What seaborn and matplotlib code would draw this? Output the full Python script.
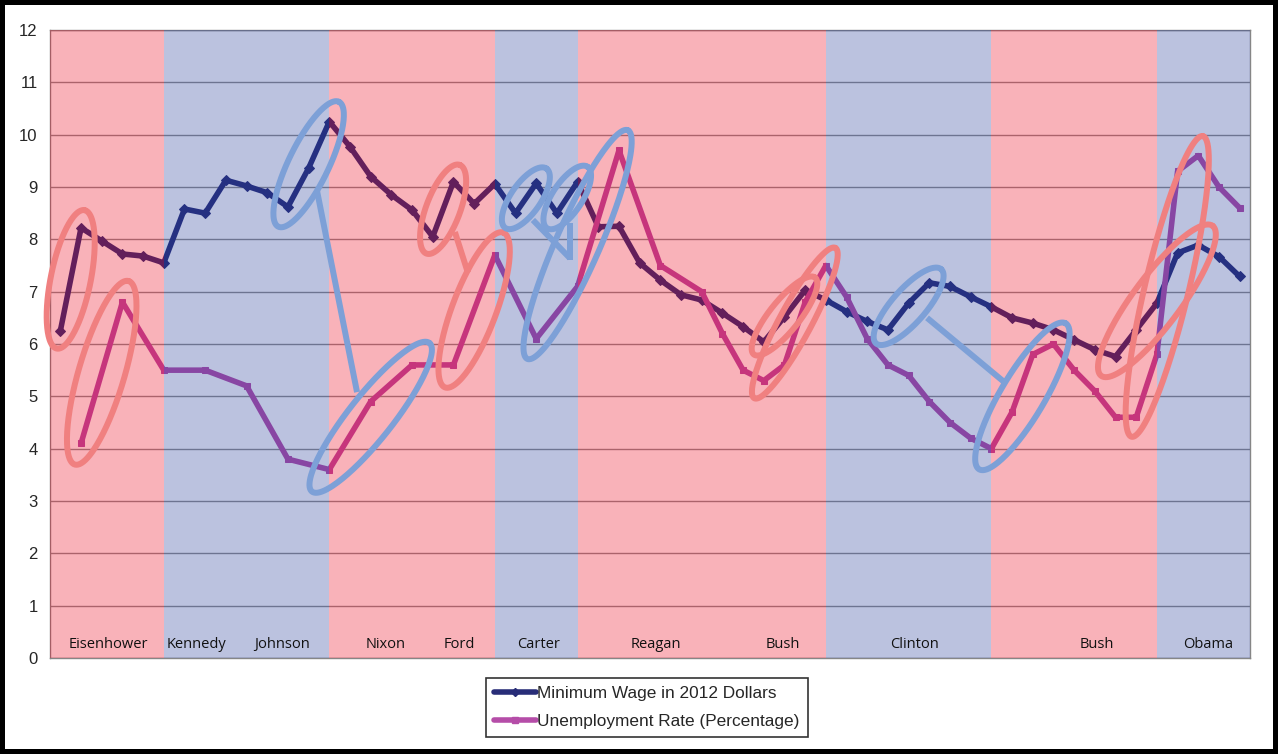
import numpy as np
import pandas as pd
import matplotlib
matplotlib.use("Agg")
import matplotlib.pyplot as plt
import seaborn as sns
from matplotlib.lines import Line2D

# data
years = list(range(1956, 2014))
min_wage = [6.25, 8.22, 7.97, 7.72, 7.68, 7.55, 8.58, 8.50, 9.13, 9.02,
            8.89, 8.62, 9.36, 10.25, 9.77, 9.20, 8.85, 8.56, 8.05, 9.10,
            8.68, 9.06, 8.50, 9.07, 8.50, 9.10, 8.24, 8.25, 7.55, 7.22,
            6.94, 6.84, 6.59, 6.33, 6.04, 6.52, 7.03, 6.84, 6.62, 6.43,
            6.27, 6.78, 7.17, 7.10, 6.90, 6.71, 6.50, 6.40, 6.27, 6.08,
            5.89, 5.76, 6.27, 6.78, 7.74, 7.89, 7.67, 7.29]

ue_years = [1957, 1959, 1961, 1963, 1965, 1967, 1969, 1971, 1973, 1975,
            1977, 1979, 1981, 1983, 1985, 1987, 1988, 1989, 1990, 1991,
            1992, 1993, 1994, 1995, 1996, 1997, 1998, 1999, 2000, 2001,
            2002, 2003, 2004, 2005, 2006, 2007, 2008, 2009, 2010, 2011,
            2012, 2013]
unemployment = [4.1, 6.8, 5.5, 5.5, 5.2, 3.8, 3.6, 4.9, 5.6, 5.6,
                7.7, 6.1, 7.1, 9.7, 7.5, 7.0, 6.2, 5.5, 5.3, 5.6,
                6.8, 7.5, 6.9, 6.1, 5.6, 5.4, 4.9, 4.5, 4.2, 4.0,
                4.7, 5.8, 6.0, 5.5, 5.1, 4.6, 4.6, 5.8, 9.3, 9.6,
                9.0, 8.6]

# presidential terms (band edges) and party
band_edges = [1955.5, 1961, 1969, 1977, 1981, 1993, 2001, 2009, 2013.5]
band_party = ["R", "D", "R", "D", "R", "D", "R", "D"]
presidents = ["Eisenhower", "Kennedy", "Johnson", "Nixon", "Ford", "Carter",
              "Reagan", "Bush", "Clinton", "Bush", "Obama"]
president_x = [1958.3, 1962.6, 1966.7, 1971.7, 1975.3, 1979.1,
               1984.8, 1990.9, 1997.3, 2006.1, 2011.5]

navy = "#282D78"
magenta = "#B54DA8"
red_ring = "#F08080"
blue_ring = "#7DA0D7"

# highlight rings: series, first year, last year, ring thickness (px), end pad (px), colour
rings = [
    ("mw", 1956, 1957, 40, 18, red_ring),
    ("ue", 1957, 1959, 46, 22, red_ring),
    ("mw", 1967, 1969, 40, 22, blue_ring),
    ("ue", 1969, 1973, 44, 28, blue_ring),
    ("mw", 1974, 1975, 34, 18, red_ring),
    ("ue", 1975, 1977, 44, 24, red_ring),
    ("mw", 1978, 1979, 30, 18, blue_ring),
    ("mw", 1980, 1981, 30, 18, blue_ring),
    ("ue", 1979, 1983, 44, 22, blue_ring),
    ("mw", 1990, 1992, 30, 16, red_ring),
    ("ue", 1990, 1993, 32, 20, red_ring),
    ("mw", 1996, 1998, 34, 18, blue_ring),
    ("ue", 2001, 2004, 44, 24, blue_ring),
    ("mw", 2007, 2011, 48, 24, red_ring),
    ("ue", 2008, 2011, 44, 20, red_ring),
]
connectors = [
    ((1968.4, 8.94), (1970.34, 5.08), blue_ring),
    ((1975.07, 8.14), (1975.7, 7.36), red_ring),
    ((1978.84, 8.37), (1980.63, 7.64), blue_ring),
    ((1980.63, 8.31), (1980.63, 7.61), blue_ring),
    ((1997.89, 6.50), (2001.66, 5.26), blue_ring),
]

mw_df = pd.DataFrame({"year": years, "value": min_wage})
ue_df = pd.DataFrame({"year": ue_years, "value": unemployment})

sns.set_style("white")
plt.rcParams["font.family"] = ["Liberation Sans", "DejaVu Sans"]

fig = plt.figure(figsize=(12.78, 7.54), dpi=100)
ax = fig.add_axes([50 / 1278, 96 / 754, 1200 / 1278, 628 / 754])

ax.set_xlim(1955.5, 2013.5)
ax.set_ylim(0, 12)
ax.set_yticks(range(13))
ax.set_xticks(np.arange(1955.5, 2014, 1))
ax.set_xticklabels([])
ax.yaxis.grid(True, color="#8f8f8f", lw=1)
ax.set_axisbelow(True)
ax.tick_params(axis="both", direction="out", length=5, color="#868686", width=1)
ax.tick_params(axis="y", labelsize=12, pad=4)
for sp in ax.spines.values():
    sp.set_color("#868686")
    sp.set_linewidth(1)

sns.lineplot(data=mw_df, x="year", y="value", ax=ax, color=navy, lw=4.0,
             marker="D", markersize=5, markeredgecolor=navy, zorder=2, legend=False)
sns.lineplot(data=ue_df, x="year", y="value", ax=ax, color=magenta, lw=4.0,
             marker="s", markersize=5, markeredgecolor=magenta, zorder=2, legend=False)
ax.set_xlabel("")
ax.set_ylabel("")

# party bands laid over the lines
for x0, x1, party in zip(band_edges[:-1], band_edges[1:], band_party):
    col = "#EE0019" if party == "R" else "#203798"
    ax.axvspan(x0, x1, color=col, alpha=0.3, lw=0, zorder=3)

for name, x in zip(presidents, president_x):
    ax.text(x, 0.25, name, ha="center", va="center", fontsize=10.5,
            family=["Open Sans", "DejaVu Sans"], color="#111111", zorder=5)

# rings drawn in pixel space so they stay true ellipses
series = {"mw": dict(zip(years, min_wage)), "ue": dict(zip(ue_years, unemployment))}
inv = ax.transData.inverted()
t = np.linspace(0, 2 * np.pi, 200)
for key, y0, y1, thick, pad, col in rings:
    p0 = ax.transData.transform((y0, series[key][y0]))
    p1 = ax.transData.transform((y1, series[key][y1]))
    c = (p0 + p1) / 2
    d = p1 - p0
    L = np.hypot(*d)
    u = d / L
    v = np.array([-u[1], u[0]])
    a = L / 2 + pad
    b = thick / 2
    pts = c + np.outer(a * np.cos(t), u) + np.outer(b * np.sin(t), v)
    dpts = inv.transform(pts)
    ax.plot(dpts[:, 0], dpts[:, 1], color=col, lw=4.3, zorder=4, clip_on=False)

for (xa, ya), (xb, yb), col in connectors:
    ax.plot([xa, xb], [ya, yb], color=col, lw=4.3, zorder=4, solid_capstyle="butt")

handles = [
    Line2D([], [], color=navy, lw=4, marker="D", markersize=4.5),
    Line2D([], [], color=magenta, lw=4, marker="s", markersize=5),
]
leg = fig.legend(handles, ["Minimum Wage in 2012 Dollars", "Unemployment Rate (Percentage)"],
                 loc="center", bbox_to_anchor=(0.506, 0.0617), frameon=True, fancybox=False,
                 edgecolor="black", fontsize=12.4, handlelength=2.4, handletextpad=0.05,
                 labelspacing=0.7, borderpad=0.5, borderaxespad=0)
leg.get_frame().set_linewidth(1.2)

fig.patch.set_edgecolor("black")
fig.patch.set_linewidth(6)
fig.savefig("out.png", dpi=100, edgecolor="black")
